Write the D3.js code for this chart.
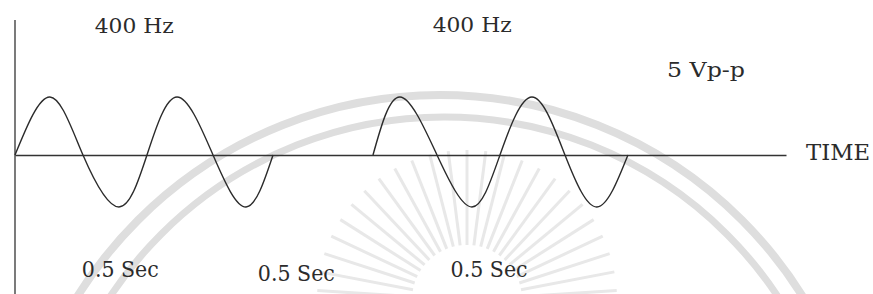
<!DOCTYPE html>
<html>
<head>
<meta charset="utf-8">
<script src="https://cdn.jsdelivr.net/npm/d3@7"></script>
<style>
  body { margin: 0; background: #fff; }
  svg { display: block; }
  text { font-family: "DejaVu Serif", serif; fill: #2b2b2b; }
</style>
</head>
<body>
<svg id="chart"></svg>
<script>
let width = 873; let height = 294;

// wave points (time in cycles of 400 Hz, volts)
let burst1_t = [0, 0.272, 0.529, 0.809, 1.027, 1.261, 1.541, 1.798, 2.008];
let burst1_v = [0, 2.5, 0, -2.5, 0, 2.5, 0, -2.5, 0];
let burst2_t = [2.786, 2.996, 3.284, 3.556, 3.774, 4.023, 4.28, 4.529, 4.77];
let burst2_v = [0, 2.5, 0, -2.5, 0, 2.5, 0, -2.5, 0];

// labels
let freq_labels = ["400 Hz", "400 Hz"];
let freq_t = [0.62, 3.25];
let dur_labels = ["0.5 Sec", "0.5 Sec", "0.5 Sec"];
let dur_t = [0.52, 1.89, 3.39];
let amp_label = "5 Vp-p";
let axis_label = "TIME";

let svg = d3.select("#chart")
  .attr("width", width)
  .attr("height", height)

// faint watermark behind the chart
let wm = svg.append("g").attr("class", "watermark")
wm.append("circle")
  .attr("cx", 440).attr("cy", 522).attr("r", 427)
  .attr("fill", "none").attr("stroke", "#dedede").attr("stroke-width", 8)
wm.append("circle")
  .attr("cx", 444).attr("cy", 517).attr("r", 400)
  .attr("fill", "none").attr("stroke", "#dedede").attr("stroke-width", 7)
for (let i = 0; i < 25; i++) {
  let a = Math.PI + (i + 0.5) * Math.PI / 25;
  wm.append("line")
    .attr("x1", 467 + 55 * Math.cos(a)).attr("y1", 300 + 55 * Math.sin(a))
    .attr("x2", 467 + 150 * Math.cos(a)).attr("y2", 300 + 150 * Math.sin(a))
    .attr("stroke", "#e8e8e8").attr("stroke-width", 3)
}

// scales
let x = d3.scaleLinear().domain([0, 6]).range([15, 786]);
let y = d3.scaleLinear().domain([-2.5, 0, 2.5]).range([207, 155, 97]);

// axes
svg.append("g")
  .attr("transform", "translate(0," + y(0) + ")")
  .call(d3.axisBottom(x).tickValues([]).tickSizeOuter(0))
  .call(g => g.select(".domain").attr("stroke", "#333").attr("stroke-width", 1.3))

svg.append("line")
  .attr("x1", x(0)).attr("x2", x(0))
  .attr("y1", 20).attr("y2", height)
  .attr("stroke", "#333").attr("stroke-width", 1.3)

// waves
let line = d3.line()
  .x(d => x(d[0]))
  .y(d => y(d[1]))
  .curve(d3.curveNatural)

let bursts = [d3.zip(burst1_t, burst1_v), d3.zip(burst2_t, burst2_v)];
svg.selectAll(".wave")
  .data(bursts)
  .enter()
  .append("path")
  .attr("class", "wave")
  .attr("d", line)
  .attr("fill", "none")
  .attr("stroke", "#2b2b2b")
  .attr("stroke-width", 1.4)

// text
let freq_y = [33, 32];
svg.selectAll(".freq")
  .data(freq_labels)
  .enter()
  .append("text")
  .attr("class", "freq")
  .attr("x", (d, i) => x(freq_t[i]))
  .attr("y", (d, i) => freq_y[i])
  .attr("font-size", 21)
  .attr("textLength", 79)
  .attr("lengthAdjust", "spacingAndGlyphs")
  .text(d => d)

let dur_y = [277, 281, 277];
svg.selectAll(".dur")
  .data(dur_labels)
  .enter()
  .append("text")
  .attr("class", "dur")
  .attr("x", (d, i) => x(dur_t[i]))
  .attr("y", (d, i) => dur_y[i])
  .attr("font-size", 22)
  .attr("textLength", 77)
  .attr("lengthAdjust", "spacingAndGlyphs")
  .text(d => d)

svg.append("text")
  .attr("x", 667)
  .attr("y", 77)
  .attr("font-size", 20)
  .attr("textLength", 78)
  .attr("lengthAdjust", "spacingAndGlyphs")
  .text(amp_label)

svg.append("text")
  .attr("x", 806)
  .attr("y", 160)
  .attr("font-size", 22)
  .attr("textLength", 64)
  .attr("lengthAdjust", "spacingAndGlyphs")
  .text(axis_label)
</script>
</body>
</html>
